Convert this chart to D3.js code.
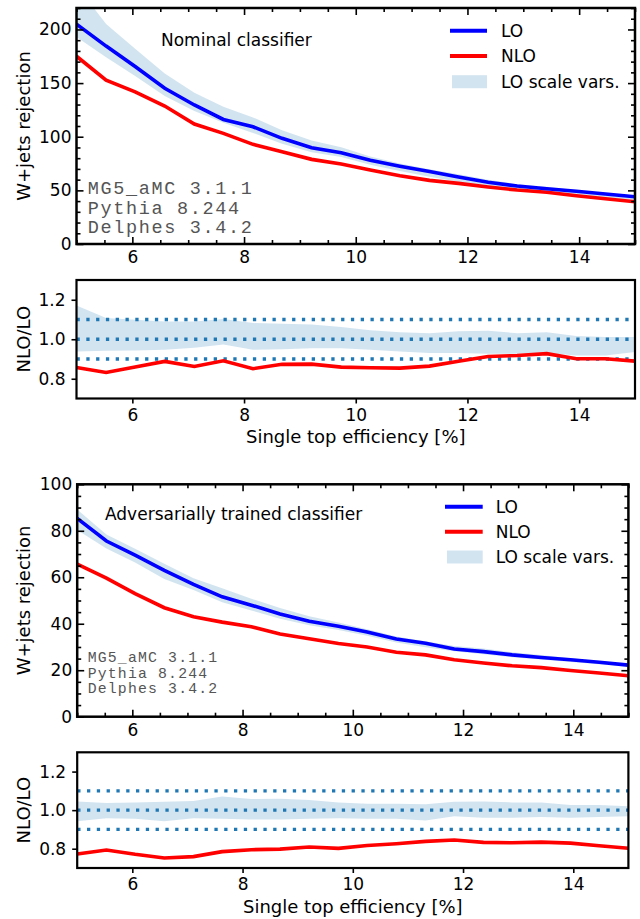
<!DOCTYPE html>
<html><head><meta charset="utf-8">
<script src="https://cdn.jsdelivr.net/npm/d3@7"></script>
<style>body{margin:0;background:#fff}svg{display:block}</style>
</head><body><svg id="c" width="640" height="919"></svg>
<script>
// ---------------- data ----------------
const efficiency = [5.00, 5.53, 6.05, 6.58, 7.11, 7.63, 8.16, 8.68, 9.21, 9.74, 10.26, 10.79, 11.32, 11.84, 12.37, 12.89, 13.42, 13.95, 14.47, 15.00];

// Nominal classifier
const nomLO     = [205, 184.5, 165.5, 145.2, 129.6, 116.1, 109.3, 98.5, 89.8, 85, 78, 72.5, 67.5, 62.5, 57.5, 54, 51.5, 49.2, 46.6, 44];
const nomNLO    = [175, 152.8, 141.9, 128.6, 111.8, 103.1, 92.9, 86, 78.9, 74.5, 68.9, 63.6, 59.3, 56.5, 53.1, 50.3, 48.2, 45, 42.2, 39.4];
const nomBandUp = [241, 205, 182, 159, 141, 128, 118, 106, 96.5, 90.3, 81.5, 75, 69.6, 65, 60, 55.7, 53.3, 50, 47.1, 44.5];
const nomBandDn = [193, 174, 156.5, 138, 124, 113, 103.5, 93.4, 85.6, 81.2, 73.9, 68, 62.8, 58.1, 53.3, 50.1, 47.9, 45.2, 42.8, 41.1];
const nomRatio   = [0.857, 0.832, 0.859, 0.888, 0.862, 0.891, 0.851, 0.873, 0.874, 0.859, 0.856, 0.854, 0.864, 0.889, 0.913, 0.918, 0.927, 0.901, 0.901, 0.889];
const nomRatioUp = [1.171, 1.107, 1.099, 1.090, 1.090, 1.102, 1.082, 1.078, 1.075, 1.062, 1.045, 1.035, 1.031, 1.040, 1.043, 1.031, 1.035, 1.016, 1.011, 1.011];
const nomRatioDn = [0.938, 0.942, 0.943, 0.947, 0.957, 0.974, 0.947, 0.949, 0.954, 0.955, 0.947, 0.938, 0.930, 0.930, 0.927, 0.927, 0.930, 0.918, 0.918, 0.935];

// Adversarially trained classifier
const advLO     = [85.3, 75.6, 69.5, 63, 56.9, 51.6, 48, 44.2, 41.1, 38.9, 36.4, 33.4, 31.6, 29.1, 28, 26.6, 25.5, 24.5, 23.4, 22.2];
const advNLO    = [65.7, 59.6, 53, 46.9, 43, 40.7, 38.7, 35.6, 33.5, 31.5, 30, 27.7, 26.6, 24.5, 23.1, 21.9, 21.1, 19.9, 18.8, 17.6];
const advBandUp = [89.2, 78.4, 72.3, 65.8, 59.6, 55.3, 50.8, 46.8, 43.2, 40.5, 37.6, 34.5, 32.5, 30.4, 29.3, 27.7, 26.5, 25.2, 24, 22.6];
const advBandDn = [80.3, 72.4, 66.4, 59.3, 54.5, 49.3, 45.7, 42.1, 39.3, 37.3, 34.8, 31.9, 29.9, 28.2, 26.9, 25.6, 24.6, 23.5, 22.6, 21.5];
const advRatio   = [0.773, 0.793, 0.771, 0.752, 0.759, 0.785, 0.795, 0.798, 0.809, 0.802, 0.817, 0.826, 0.838, 0.845, 0.833, 0.831, 0.834, 0.829, 0.815, 0.802];
const advRatioUp = [1.045, 1.037, 1.040, 1.044, 1.047, 1.071, 1.058, 1.059, 1.052, 1.040, 1.033, 1.033, 1.030, 1.044, 1.045, 1.040, 1.040, 1.027, 1.027, 1.020];
const advRatioDn = [0.942, 0.958, 0.955, 0.942, 0.958, 0.955, 0.951, 0.951, 0.956, 0.958, 0.955, 0.955, 0.946, 0.968, 0.961, 0.961, 0.965, 0.961, 0.965, 0.968];

// ticks / labels
const xTicks = [6, 8, 10, 12, 14];
const nomYTicks = [0, 50, 100, 150, 200];
const advYTicks = [0, 20, 40, 60, 80, 100];
const ratioYTicks = [0.8, 1.0, 1.2];
const refLines = [0.9, 1.0, 1.1];
const legendLabels = ["LO", "NLO", "LO scale vars."];
const generatorLines = ["MG5_aMC 3.1.1", "Pythia 8.244", "Delphes 3.4.2"];

// ---------------- drawing ----------------
const svg = d3.select("#c");
const FONT = "DejaVu Sans";
const BLUE = "#0000ff", RED = "#ff0000", C0 = "#1f77b4";
let clipId = 0;

function clipFor(x0, x1, y0, y1) {
  const id = "clip" + (clipId++);
  svg.append("clipPath").attr("id", id).append("rect")
    .attr("x", x0).attr("y", y0).attr("width", x1 - x0).attr("height", y1 - y0);
  return "url(#" + id + ")";
}

function styleAxis(g, fs) {
  g.select(".domain").remove();
  g.selectAll("line").attr("stroke", "#000").attr("stroke-width", 1.6);
  g.selectAll("text").attr("font-family", FONT).attr("font-size", fs).attr("fill", "#000");
}

function mainPanel(o) {
  const xs = d3.scaleLinear().domain([5, 15]).range([o.x0, o.x1]);
  const ys = d3.scaleLinear().domain(o.ydom).range([o.y1, o.y0]);
  const clip = clipFor(o.x0, o.x1, o.y0, o.y1);
  const g = svg.append("g");
  const pg = g.append("g").attr("clip-path", clip);
  const area = d3.area().x((d, i) => xs(efficiency[i])).y0((d, i) => ys(o.dn[i])).y1((d, i) => ys(o.up[i]));
  pg.append("path").datum(o.up).attr("d", area).attr("fill", C0).attr("fill-opacity", 0.2);
  const line = arr => d3.line().x((d, i) => xs(efficiency[i])).y(d => ys(d))(arr);
  pg.append("path").attr("d", line(o.nlo)).attr("fill", "none").attr("stroke", RED).attr("stroke-width", 3.6);
  pg.append("path").attr("d", line(o.lo)).attr("fill", "none").attr("stroke", BLUE).attr("stroke-width", 3.6);

  const xMinor = d3.range(5, 15.01, 0.5).filter(v => !xTicks.includes(v));
  const yMinor = d3.range(o.ydom[0], o.ydom[1] + 0.01, o.minorStep).filter(v => !o.yticks.includes(v));
  const fs = 17;
  const ab = g.append("g").attr("transform", `translate(0,${o.y1})`)
    .call(d3.axisBottom(xs).tickValues(xTicks).tickSize(-7).tickPadding(7).tickFormat(d3.format("d")));
  styleAxis(ab, fs);
  const abm = g.append("g").attr("transform", `translate(0,${o.y1})`)
    .call(d3.axisBottom(xs).tickValues(xMinor).tickSize(-4).tickFormat(""));
  styleAxis(abm, fs);
  const at = g.append("g").attr("transform", `translate(0,${o.y0})`)
    .call(d3.axisTop(xs).tickValues(xTicks).tickSize(-7).tickFormat(""));
  styleAxis(at, fs);
  const atm = g.append("g").attr("transform", `translate(0,${o.y0})`)
    .call(d3.axisTop(xs).tickValues(xMinor).tickSize(-4).tickFormat(""));
  styleAxis(atm, fs);
  const al = g.append("g").attr("transform", `translate(${o.x0},0)`)
    .call(d3.axisLeft(ys).tickValues(o.yticks).tickSize(-7).tickPadding(5).tickFormat(d3.format("d")));
  styleAxis(al, fs);
  const alm = g.append("g").attr("transform", `translate(${o.x0},0)`)
    .call(d3.axisLeft(ys).tickValues(yMinor).tickSize(-4).tickFormat(""));
  styleAxis(alm, fs);
  const ar = g.append("g").attr("transform", `translate(${o.x1},0)`)
    .call(d3.axisRight(ys).tickValues(o.yticks).tickSize(-7).tickFormat(""));
  styleAxis(ar, fs);
  const arm = g.append("g").attr("transform", `translate(${o.x1},0)`)
    .call(d3.axisRight(ys).tickValues(yMinor).tickSize(-4).tickFormat(""));
  styleAxis(arm, fs);

  g.append("rect").attr("x", o.x0).attr("y", o.y0).attr("width", o.x1 - o.x0).attr("height", o.y1 - o.y0)
    .attr("fill", "none").attr("stroke", "#000").attr("stroke-width", 2.5);

  g.append("text").attr("transform", `translate(30,${(o.y0 + o.y1) / 2}) rotate(-90)`)
    .attr("text-anchor", "middle").attr("font-family", FONT).attr("font-size", 18).text("W+jets rejection");
  g.append("text").attr("x", o.titleX).attr("y", o.titleY).attr("font-family", FONT).attr("font-size", 17).text(o.title);
  generatorLines.forEach((t, i) => {
    g.append("text").attr("x", 87.7).attr("y", o.genY + i * o.genDy)
      .attr("font-family", "Liberation Mono").attr("font-size", o.genFs)
      .attr("letter-spacing", o.genLs).attr("fill", "#555").text(t);
  });
  const L = o.legend;
  [[BLUE, 0], [RED, 1]].forEach(([c, i]) => {
    g.append("line").attr("x1", L.x0).attr("x2", L.x1).attr("y1", L.ys[i]).attr("y2", L.ys[i])
      .attr("stroke", c).attr("stroke-width", 4);
  });
  g.append("rect").attr("x", L.x0 + 2).attr("y", L.ys[2] - 6.5).attr("width", L.x1 - L.x0 - 2).attr("height", 13)
    .attr("fill", C0).attr("fill-opacity", 0.2);
  legendLabels.forEach((t, i) => {
    g.append("text").attr("x", L.tx).attr("y", L.ys[i] + 6.2).attr("font-family", FONT).attr("font-size", 17).text(t);
  });
}

function ratioPanel(o) {
  const xs = d3.scaleLinear().domain([5, 15]).range([o.x0, o.x1]);
  const ys = d3.scaleLinear().domain([0.7, 1.3]).range([o.y1, o.y0]);
  const clip = clipFor(o.x0, o.x1, o.y0, o.y1);
  const g = svg.append("g");
  const pg = g.append("g").attr("clip-path", clip);
  const area = d3.area().x((d, i) => xs(efficiency[i])).y0((d, i) => ys(o.dn[i])).y1((d, i) => ys(o.up[i]));
  pg.append("path").datum(o.up).attr("d", area).attr("fill", C0).attr("fill-opacity", 0.2);
  refLines.forEach(v => {
    pg.append("line").attr("x1", o.x0).attr("x2", o.x1).attr("y1", ys(v)).attr("y2", ys(v))
      .attr("stroke", C0).attr("stroke-width", 3.3).attr("stroke-dasharray", "3.3,6.5");
  });
  pg.append("path").attr("d", d3.line().x((d, i) => xs(efficiency[i])).y(d => ys(d))(o.ratio))
    .attr("fill", "none").attr("stroke", RED).attr("stroke-width", 3.6);

  const fs = 17;
  const ab = g.append("g").attr("transform", `translate(0,${o.y1})`)
    .call(d3.axisBottom(xs).tickValues(xTicks).tickSize(5).tickPadding(5).tickFormat(d3.format("d")));
  styleAxis(ab, fs);
  const al = g.append("g").attr("transform", `translate(${o.x0},0)`)
    .call(d3.axisLeft(ys).tickValues(ratioYTicks).tickSize(5).tickPadding(6).tickFormat(d3.format(".1f")));
  styleAxis(al, fs);
  g.append("rect").attr("x", o.x0).attr("y", o.y0).attr("width", o.x1 - o.x0).attr("height", o.y1 - o.y0)
    .attr("fill", "none").attr("stroke", "#000").attr("stroke-width", 2.2);
  g.append("text").attr("transform", `translate(30,${(o.y0 + o.y1) / 2}) rotate(-90)`)
    .attr("text-anchor", "middle").attr("font-family", FONT).attr("font-size", 18).text("NLO/LO");
  g.append("text").attr("x", (o.x0 + o.x1) / 2).attr("y", o.xlabY).attr("text-anchor", "middle")
    .attr("font-family", FONT).attr("font-size", 18).text("Single top efficiency [%]");
}

mainPanel({
  x0: 76.5, x1: 635, y0: 8, y1: 244, ydom: [0, 220], yticks: nomYTicks, minorStep: 10,
  lo: nomLO, nlo: nomNLO, up: nomBandUp, dn: nomBandDn,
  title: "Nominal classifier", titleX: 161, titleY: 46,
  genY: 194.3, genDy: 19.5, genFs: 18.5, genLs: 1.65,
  legend: { x0: 450, x1: 487, ys: [30.7, 56, 81.7], tx: 501 }
});
ratioPanel({ x0: 76.5, x1: 635, y0: 280, y1: 398.5, up: nomRatioUp, dn: nomRatioDn, ratio: nomRatio, xlabY: 443 });

mainPanel({
  x0: 77.2, x1: 628.4, y0: 484.3, y1: 716.7, ydom: [0, 100], yticks: advYTicks, minorStep: 5,
  lo: advLO, nlo: advNLO, up: advBandUp, dn: advBandDn,
  title: "Adversarially trained classifier", titleX: 105, titleY: 520,
  genY: 662.3, genDy: 15.5, genFs: 14.8, genLs: 1.17,
  legend: { x0: 445, x1: 482.7, ys: [506.7, 531.7, 557], tx: 495.7 }
});
ratioPanel({ x0: 77.2, x1: 628.4, y0: 752.3, y1: 868, up: advRatioUp, dn: advRatioDn, ratio: advRatio, xlabY: 913 });
</script>
</body></html>
